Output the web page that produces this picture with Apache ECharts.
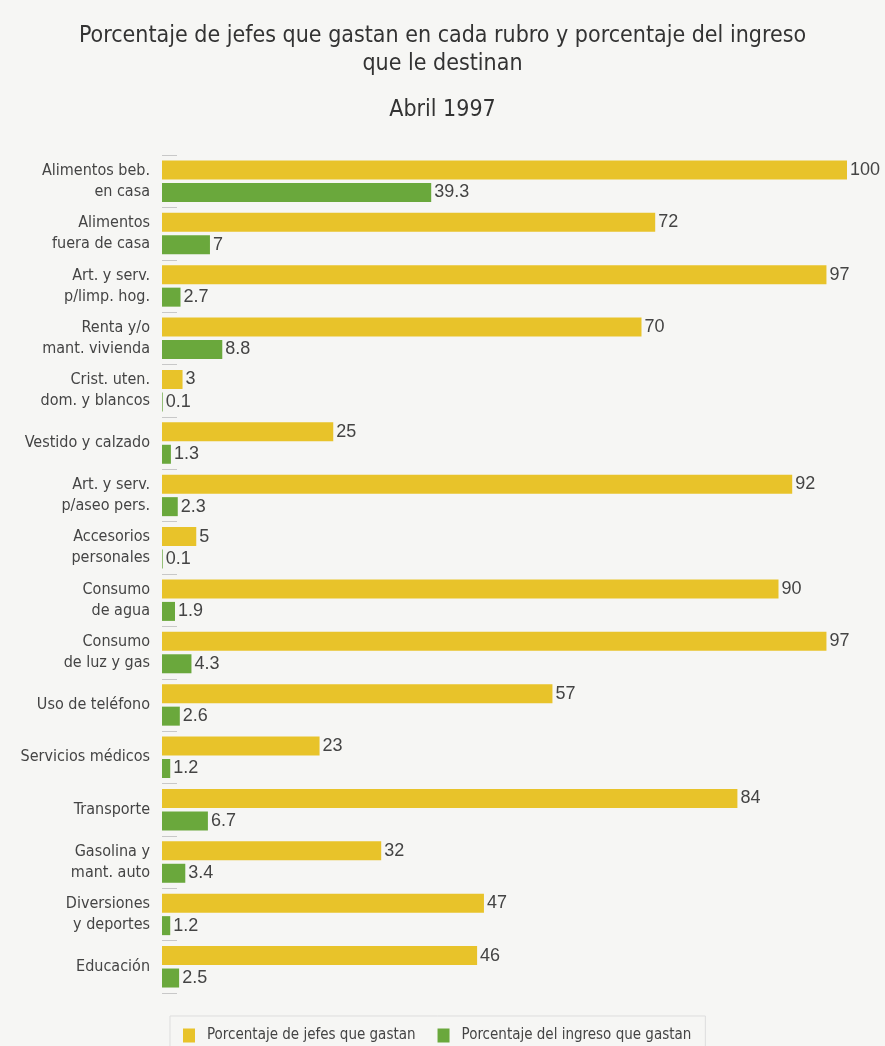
<!DOCTYPE html>
<html>
<head>
<meta charset="utf-8">
<script src="https://cdn.jsdelivr.net/npm/echarts@6/dist/echarts.min.js"></script>
<style>
  html, body { margin: 0; padding: 0; background: #f6f6f4; }
  #chart { width: 885px; height: 1046px; }
</style>
</head>
<body>
<div id="chart"></div>
<script>
const categories = [
  "Alimentos beb.\nen casa",
  "Alimentos\nfuera de casa",
  "Art. y serv.\np/limp. hog.",
  "Renta y/o\nmant. vivienda",
  "Crist. uten.\ndom. y blancos",
  "Vestido y calzado",
  "Art. y serv.\np/aseo pers.",
  "Accesorios\npersonales",
  "Consumo\nde agua",
  "Consumo\nde luz y gas",
  "Uso de teléfono",
  "Servicios médicos",
  "Transporte",
  "Gasolina y\nmant. auto",
  "Diversiones\ny deportes",
  "Educación",
];
const jefesGastan = [100, 72, 97, 70, 3, 25, 92, 5, 90, 97, 57, 23, 84, 32, 47, 46];
const ingresoGastan = [39.3, 7, 2.7, 8.8, 0.1, 1.3, 2.3, 0.1, 1.9, 4.3, 2.6, 1.2, 6.7, 3.4, 1.2, 2.5];
const seriesNames = ["Porcentaje de jefes que gastan", "Porcentaje del ingreso que gastan"];

const narrow = "'DejaVu Sans Condensed', 'Liberation Sans', sans-serif";

const chart = echarts.init(document.getElementById("chart"));

const valueLabel = {
  show: true,
  position: "right",
  distance: 3,
  color: "#444",
  fontSize: 18,
  fontFamily: "Liberation Sans",
};

chart.setOption({
  backgroundColor: "#f6f6f4",
  animation: false,
  title: [
    {
      text: "Porcentaje de jefes que gastan en cada rubro y porcentaje del ingreso\nque le destinan",
      left: "center",
      top: 17,
      textStyle: {
        color: "#333",
        fontSize: 23,
        lineHeight: 28,
        fontWeight: "normal",
        fontFamily: narrow,
      },
    },
    {
      text: "Abril 1997",
      left: "center",
      top: 94,
      textStyle: {
        color: "#333",
        fontSize: 23,
        fontWeight: "normal",
        fontFamily: narrow,
      },
    },
  ],
  legend: {
    left: 170,
    top: 1016,
    padding: [12, 14, 14, 13],
    borderColor: "#ddd",
    borderWidth: 1,
    itemWidth: 12,
    itemHeight: 14,
    itemGap: 22,
    icon: "rect",
    textStyle: { color: "#444", fontSize: 15, fontFamily: narrow, padding: [0, 0, 0, 7] },
    data: seriesNames,
  },
  grid: { left: 162, right: 38, top: 155, bottom: 53 },
  xAxis: {
    type: "value",
    min: 0,
    max: 100,
    show: false,
  },
  yAxis: {
    type: "category",
    inverse: true,
    data: categories,
    axisLine: { show: false },
    axisTick: {
      show: true,
      inside: true,
      length: 15,
      lineStyle: { color: "#c8c8c8" },
    },
    axisLabel: {
      color: "#444",
      fontSize: 16,
      lineHeight: 21,
      margin: 12,
      fontFamily: narrow,
    },
  },
  series: [
    {
      name: seriesNames[0],
      type: "bar",
      data: jefesGastan,
      barWidth: 19,
      barGap: "18%",
      itemStyle: { color: "#e8c32a" },
      label: valueLabel,
    },
    {
      name: seriesNames[1],
      type: "bar",
      data: ingresoGastan,
      barWidth: 19,
      itemStyle: { color: "#6aa83c" },
      label: valueLabel,
    },
  ],
});
</script>
</body>
</html>
